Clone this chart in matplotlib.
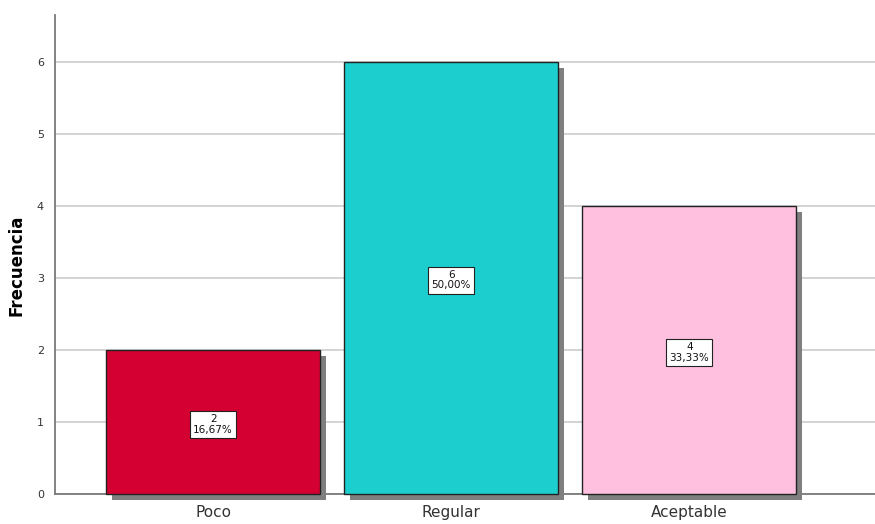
import numpy as np
import matplotlib.pyplot as plt
import matplotlib.patheffects as pe

# data
categorias = ["Poco", "Regular", "Aceptable"]
frecuencias = [2, 6, 4]
porcentajes = ["16,67%", "50,00%", "33,33%"]
colores = ["#D50032", "#1CCECE", "#FFBFDF"]

fig = plt.figure(figsize=(8.75, 5.24), dpi=100)
ax = fig.add_axes([55/875, 30/524, 820/875, 479/524])

x = np.arange(len(categorias))
sombra = [pe.SimplePatchShadow(offset=(4.3, -4.3), shadow_rgbFace="#7f7f7f", alpha=1.0), pe.Normal()]
bars = ax.bar(x, frecuencias, width=0.9, color=colores, edgecolor="#222222",
              linewidth=1.0, zorder=3, clip_on=False)
for b in bars:
    b.set_path_effects(sombra)

for xi, f, p in zip(x, frecuencias, porcentajes):
    ax.text(xi, f / 2 - 0.03, f"{f}\n{p}", ha="center", va="center", fontsize=7.5,
            linespacing=1.1, zorder=5, color="#111111",
            bbox=dict(boxstyle="square,pad=0.3", fc="white", ec="#222222", lw=0.8))

ax.set_xlim(-0.664, 2.78)
ax.set_ylim(0, 6.65)
ax.set_yticks(range(0, 7))
ax.set_xticks(x)
ax.set_xticklabels(categorias, fontsize=11, color="#333333")
ax.tick_params(axis="y", labelsize=8, length=0, pad=8, colors="#333333")
ax.tick_params(axis="x", length=0, pad=8)
ax.grid(axis="y", color="#d0d0d0", linewidth=1.3, zorder=0)
ax.set_axisbelow(True)

for s in ["top", "right"]:
    ax.spines[s].set_visible(False)
for s in ["left", "bottom"]:
    ax.spines[s].set_color("#7a7a7a")
    ax.spines[s].set_linewidth(1.3)

ax.set_ylabel("Frecuencia", fontsize=12, fontweight="bold")
ax.yaxis.set_label_coords(-0.036, 0.478)

fig.savefig("out.png", dpi=100)
